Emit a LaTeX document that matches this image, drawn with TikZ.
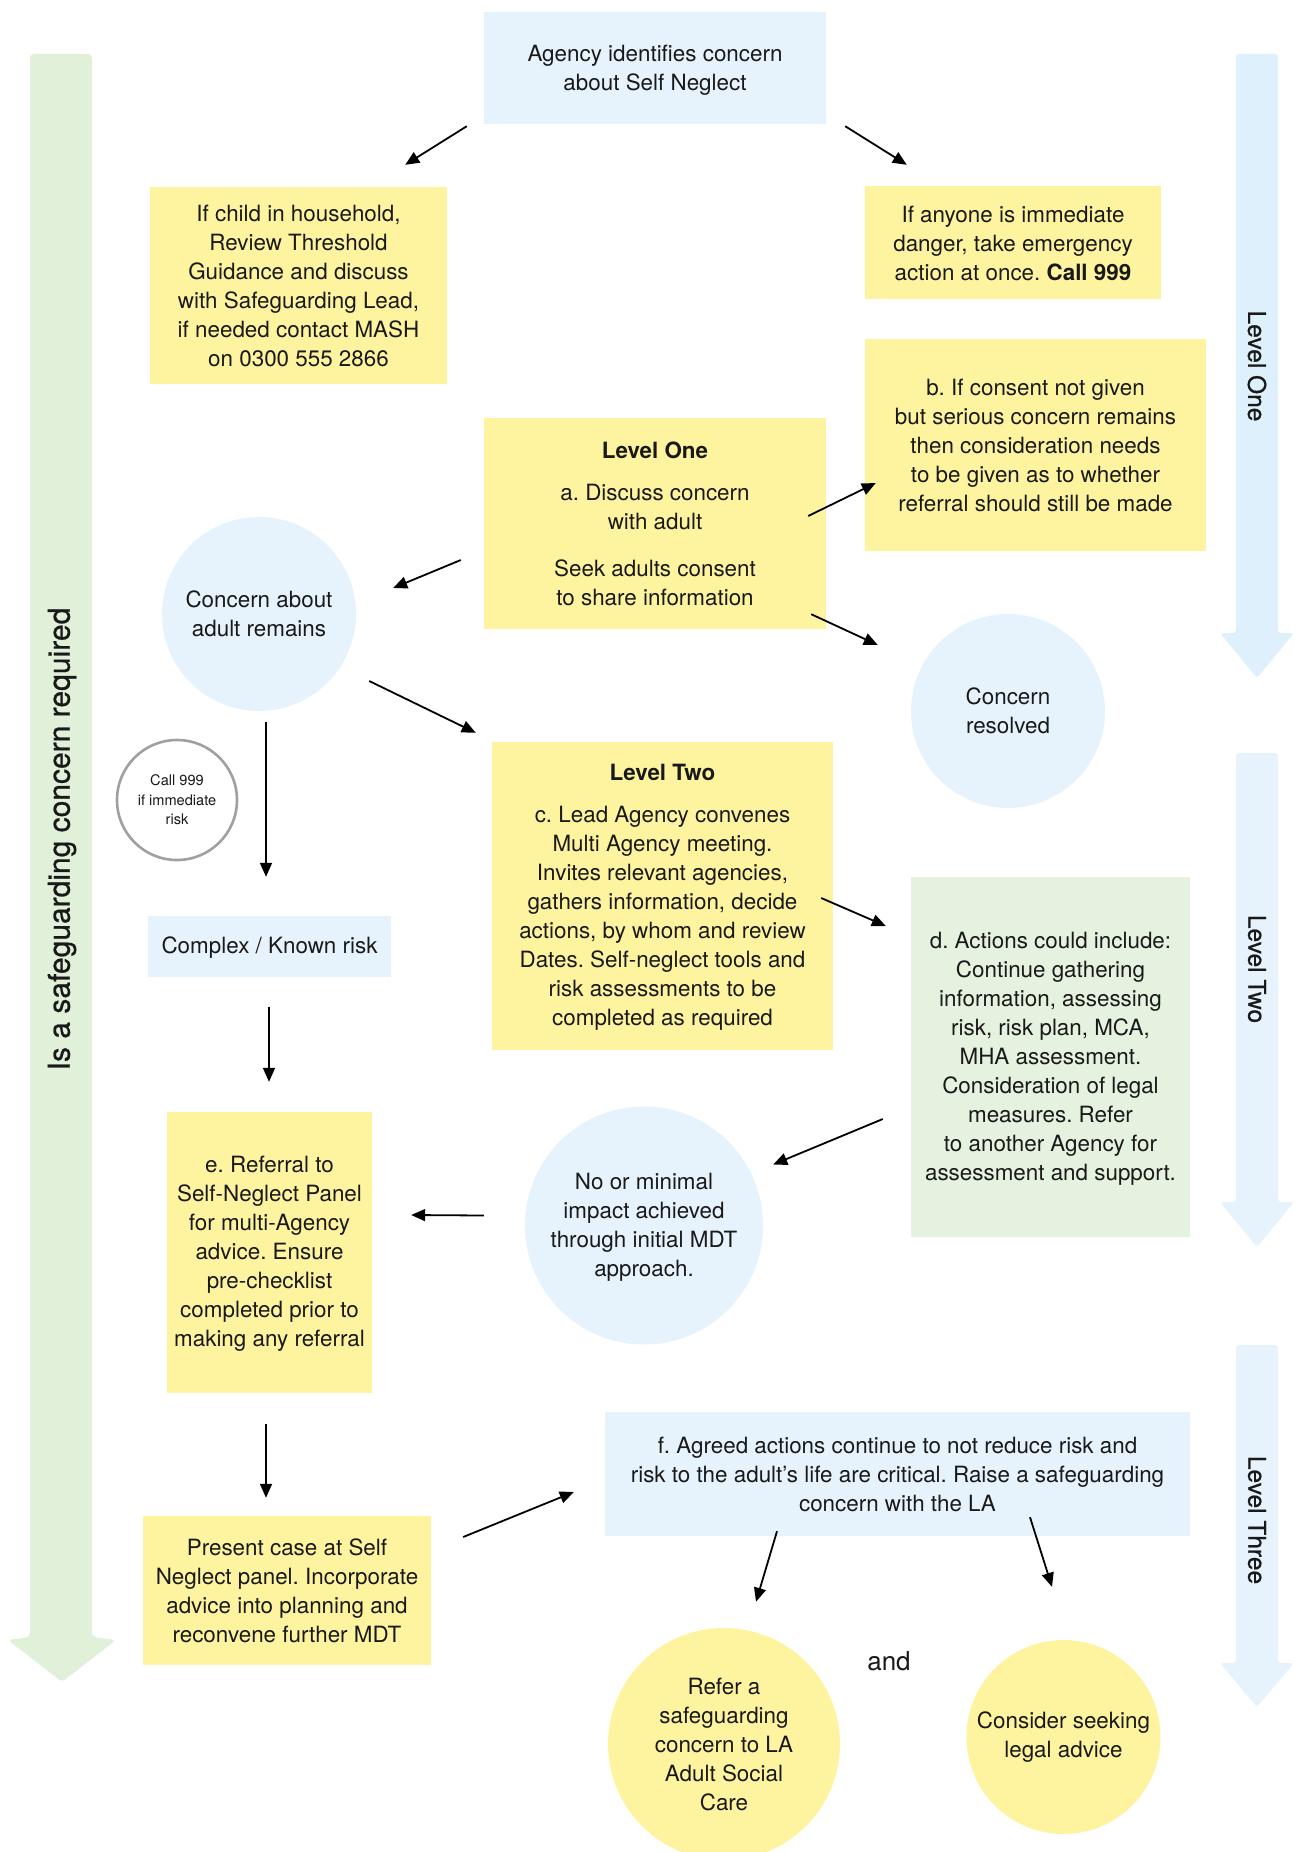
\documentclass[tikz,border=0pt]{standalone}
\usepackage{fontspec}
\setmainfont{TeX Gyre Heros}
\newfontfamily\medfont[FakeBold=0.7]{TeX Gyre Heros}
\usetikzlibrary{arrows.meta}
\definecolor{yel}{RGB}{254,244,160}
\definecolor{lblue}{RGB}{231,243,252}
\definecolor{lblueb}{RGB}{222,240,252}
\definecolor{lgreen}{RGB}{225,240,217}
\definecolor{dgreen}{RGB}{229,242,223}
\definecolor{txt}{RGB}{25,25,25}
\definecolor{ring}{RGB}{160,160,160}
\frenchspacing
\begin{document}
\begin{tikzpicture}[x=1pt,y=-1pt,
  every node/.style={text=txt, font=\fontsize{22.4}{29}\selectfont, align=center, inner sep=0pt},
  ybox/.style={rectangle, fill=yel},
  bbox/.style={rectangle, fill=lblue},
  gbox/.style={rectangle, fill=dgreen},
  bcirc/.style={circle, fill=lblue},
  ycirc/.style={circle, fill=yel},
  arr/.style={draw=black, line width=1.8pt, -{Triangle[length=14pt,width=12pt]}},
  lvl/.style={rotate=-90, font=\medfont\fontsize{24.5}{29}\selectfont}
]
\useasboundingbox (0,0) rectangle (1295,1852);
\fill[white] (0,0) rectangle (1295,1852);

% side arrows
\fill[lgreen, rounded corners=4] (30,54) -- (92,54) -- (92,1637) -- (116,1640) -- (62,1682) -- (8,1640) -- (30,1637) -- cycle;
\fill[lblueb, rounded corners=3] (1236,54) -- (1278,54) -- (1278,633) -- (1294,633) -- (1257,678) -- (1220,633) -- (1236,633) -- cycle;
\fill[lblue, rounded corners=3] (1236,753) -- (1278,753) -- (1278,1202) -- (1294,1202) -- (1257,1247) -- (1220,1202) -- (1236,1202) -- cycle;
\fill[lblue, rounded corners=3] (1236,1345) -- (1278,1345) -- (1278,1663) -- (1294,1663) -- (1257,1707) -- (1220,1663) -- (1236,1663) -- cycle;

\node[rotate=90, font=\medfont\fontsize{30}{36}\selectfont] (safeq) at (62,839) {Is a safeguarding concern required};
\node[lvl] (lv1) at (1257,366) {Level One};
\node[lvl] (lv2) at (1257,969) {Level Two};
\node[lvl] (lv3) at (1257,1520) {Level Three};

% boxes
\node[bbox, minimum width=342, minimum height=112] (top) at (655,68) {\rule{0pt}{20pt}Agency identifies concern\\about Self Neglect};
\node[ybox, minimum width=297, minimum height=197] (child) at (298.5,285.5) {If child in household,\\Review Threshold\\Guidance and discuss\\with Safeguarding Lead,\\if needed contact MASH\\on 0300 555 2866};
\node[ybox, minimum width=296, minimum height=113] (danger) at (1013,242.5) {\rule{0pt}{19pt}If anyone is immediate\\danger, take emergency\\action at once. {\bfseries Call 999}};
\node[ybox, minimum width=341, minimum height=212] (bbx) at (1035.5,445) {b. If consent not given\\but serious concern remains\\then consideration needs\\to be given as to whether\\referral should still be made};
\node[ybox, minimum width=342, minimum height=211] (lone) at (655,523.5) {{\bfseries Level One}\\[13pt]a. Discuss concern\\with adult\\[18pt]Seek adults consent\\to share information};
\node[bcirc, minimum size=194] (remain) at (259,614) {Concern about\\adult remains};
\node[bcirc, minimum size=194] (resolved) at (1008,711) {Concern\\resolved};
\node[circle, draw=ring, line width=2.6pt, minimum size=120, font=\fontsize{14.6}{19.5}\selectfont] (c999) at (177,800) {Call 999\\if immediate\\risk};
\node[bbox, minimum width=243, minimum height=61] (complex) at (269.5,946.5) {\rule{0pt}{19pt}Complex / Known risk};
\node[ybox, minimum width=341, minimum height=308] (ltwo) at (662.5,896) {\rule{0pt}{19pt}{\bfseries Level Two}\\[13pt]c. Lead Agency convenes\\Multi Agency meeting.\\Invites relevant agencies,\\gathers information, decide\\actions, by whom and review\\Dates. Self-neglect tools and\\risk assessments to be\\completed as required};
\node[gbox, minimum width=279, minimum height=360] (dbx) at (1050.5,1057) {\rule{0pt}{20pt}d. Actions could include:\\Continue gathering\\information, assessing\\risk, risk plan, MCA,\\MHA assessment.\\Consideration of legal\\measures. Refer\\to another Agency for\\assessment and support.};
\node[bcirc, minimum size=238] (nomin) at (644,1225.5) {\rule{0pt}{19pt}No or minimal\\impact achieved\\through initial MDT\\approach.};
\node[ybox, minimum width=205, minimum height=281] (ebx) at (269.5,1252.5) {\rule{0pt}{19pt}e. Referral to\\Self-Neglect Panel\\for multi-Agency\\advice. Ensure\\pre-checklist\\completed prior to\\making any referral};
\node[ybox, minimum width=288, minimum height=149] (present) at (287,1590.5) {Present case at Self\\Neglect panel. Incorporate\\advice into planning and\\reconvene further MDT};
\node[bbox, minimum width=585, minimum height=124] (fbx) at (897.5,1474) {f. Agreed actions continue to not reduce risk and\\risk to the adult’s life are critical. Raise a safeguarding\\concern with the LA};
\node[ycirc, minimum size=232] (refer) at (724,1744) {Refer a\\safeguarding\\concern to LA\\Adult Social\\Care};
\node[ycirc, minimum size=194] (consider) at (1063.5,1737) {Consider seeking\\legal advice};
\node[font=\fontsize{26}{30}\selectfont] (andtxt) at (889,1661) {and};

% connectors
\draw[arr] ([shift={(-17,2)}]top.south west) -- ([shift={(-42,-22)}]child.north east);
\draw[arr] ([shift={(19,2)}]top.south east) -- ([shift={(42,-21)}]danger.north west);
\draw[arr] ([shift={(-18,-7.5)}]lone.east) -- ([shift={(11,38)}]bbx.west);
\draw[arr] ([shift={(-15,-15)}]lone.south east) -- ([shift={(-33,-66)}]resolved.west);
\draw[arr] ([shift={(-23,36.5)}]lone.west) -- ([shift={(37,-26)}]remain.east);
\draw[arr] ([shift={(13,67)}]remain.east) -- ([shift={(-16,-9)}]ltwo.north west);
\draw[arr] ([shift={(7,11)}]remain.south) -- ([shift={(-3.5,-39)}]complex.north);
\draw[arr] ([shift={(-0.5,30)}]complex.south) -- ([shift={(-0.5,-30)}]ebx.north);
\draw[arr] ([shift={(-12,2)}]ltwo.east) -- ([shift={(-25,-131)}]dbx.west);
\draw[arr] ([shift={(-28,62)}]dbx.west) -- ([shift={(10,-61)}]nomin.east);
\draw[arr] ([shift={(-41,-10)}]nomin.west) -- ([shift={(39,-37.5)}]ebx.east);
\draw[arr] ([shift={(-3.5,31)}]ebx.south) -- ([shift={(-21,-18)}]present.north);
\draw[arr] ([shift={(32,-53.5)}]present.east) -- ([shift={(-31,18)}]fbx.west);
\draw[arr] ([shift={(-120.5,-5)}]fbx.south) -- ([shift={(32,-26)}]refer.north);
\draw[arr] ([shift={(132.5,-19)}]fbx.south) -- ([shift={(-11.5,-53)}]consider.north);
\end{tikzpicture}
\end{document}
